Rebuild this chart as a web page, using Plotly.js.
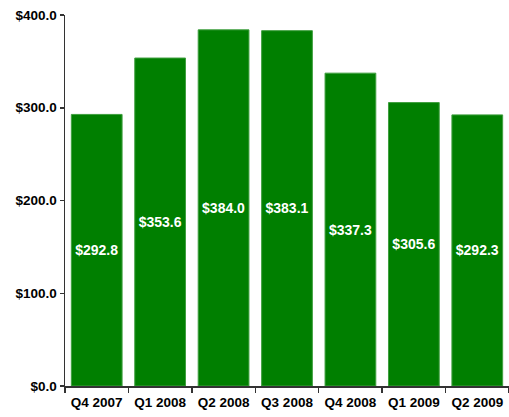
<!DOCTYPE html>
<html><head><meta charset="utf-8">
<script src="https://cdn.plot.ly/plotly-3.0.1.min.js"></script>
<style>html,body{margin:0;padding:0;background:#fff}#c{width:509px;height:417px}</style>
</head><body><div id="c"></div>
<script>
const quarters = ["Q4 2007","Q1 2008","Q2 2008","Q3 2008","Q4 2008","Q1 2009","Q2 2009"];
const values = [292.8, 353.6, 384.0, 383.1, 337.3, 305.6, 292.3];
const yTicks = [0, 100, 200, 300, 400];

const font = {family: "Liberation Sans, Arial, sans-serif", size: 13.5, color: "#000"};
Plotly.newPlot("c", [{
  type: "bar",
  x: quarters,
  y: values,
  marker: {color: "#007f00", line: {color: "#3f9f3f", width: 1}},
  texttemplate: "<b>$%{y:.1f}</b>",
  textposition: "inside",
  insidetextanchor: "middle",
  textangle: 0,
  insidetextfont: {family: font.family, size: 14, color: "#fff"},
  hoverinfo: "none"
}], {
  width: 509, height: 417,
  margin: {l: 65, r: 0, t: 15, b: 31, pad: 0},
  paper_bgcolor: "#fff", plot_bgcolor: "#fff",
  bargap: 0.2,
  showlegend: false,
  font: font,
  xaxis: {
    type: "category",
    showline: true, linecolor: "#333", linewidth: 1.5,
    ticks: "outside", ticklen: 5, tickcolor: "#333", tickwidth: 1.5,
    tickson: "boundaries",
    ticklabelstandoff: 3,
    showgrid: false, zeroline: false,
    tickfont: {family: font.family, size: 13.5, color: "#000", weight: "bold"}
  },
  yaxis: {
    range: [0, 400],
    tickvals: yTicks,
    ticktext: yTicks.map(v => "$" + v.toFixed(1)),
    showline: true, linecolor: "#333", linewidth: 1.5,
    ticks: "outside", ticklen: 4, tickcolor: "#333", tickwidth: 1.5,
    showgrid: false, zeroline: false,
    tickfont: {family: font.family, size: 13.5, color: "#000", weight: "bold"}
  }
}, {displayModeBar: false, staticPlot: true});
</script></body></html>
